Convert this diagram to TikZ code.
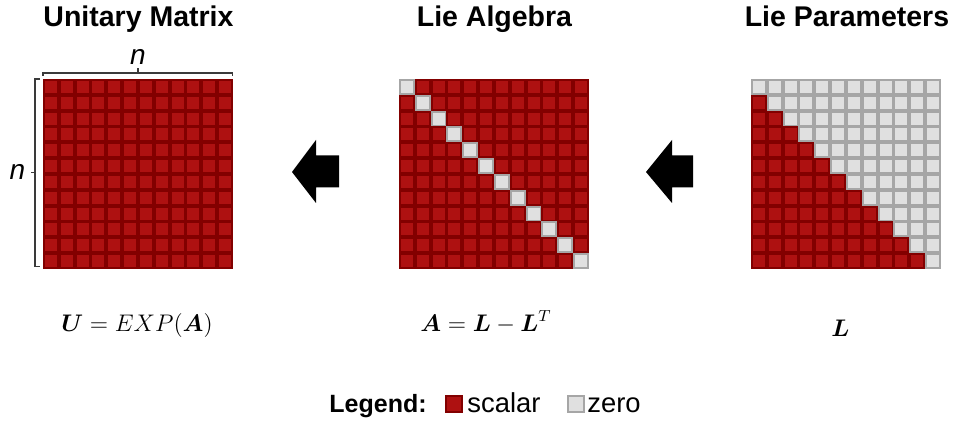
\documentclass[tikz,border=0pt]{standalone}
\usepackage{amsmath}
\usepackage[no-math]{fontspec}
\newfontfamily\arial{Liberation Sans}
\definecolor{redout}{HTML}{820000}
\definecolor{redin}{HTML}{AE1111}
\definecolor{grayout}{HTML}{A6A6A6}
\definecolor{grayin}{HTML}{E0E0E0}
\definecolor{brk}{HTML}{3A3A3A}
\newcommand\mcell[3]{%
  \fill[#3out] (#1,#2) rectangle ++(15.83,15.83);
  \fill[#3in] ($(#1,#2)+(1.9,1.9)$) rectangle ++(12.03,12.03);
}
\usetikzlibrary{calc}
\tikzset{
  title/.style={font=\arial\bfseries\fontsize{14.25}{16}\selectfont, inner sep=0, anchor=base},
  dimlabel/.style={font=\arial\itshape\fontsize{14}{16}\selectfont, inner sep=0, anchor=base},
  formula/.style={font=\fontsize{12}{14}\selectfont, inner sep=0, anchor=base},
  legendhead/.style={font=\arial\bfseries\fontsize{12.5}{14}\selectfont, inner sep=0, anchor=base west},
  legendtxt/.style={font=\arial\fontsize{13.7}{15}\selectfont, inner sep=0, anchor=base west},
  bracket/.style={draw=brk, line width=0.6pt},
  bigarrow/.style={fill=black},
  swatch/.style={inner sep=0, minimum size=8pt, line width=0.9pt, anchor=south west}
}
\begin{document}
\begin{tikzpicture}[x=0.5pt,y=-0.5pt]
\useasboundingbox (0,0) rectangle (955,427);
% titles
\node[title] (t1) at (138.5,27) {Unitary Matrix};
\node[title] (t2) at (494.5,27) {Lie Algebra};
\node[title] (t3) at (847,27) {Lie Parameters};
% matrix 1: all scalar
\foreach \r in {0,...,11}{
  \foreach \c in {0,...,11}{
    \mcell{43+15.83*\c}{79+15.83*\r}{red}
  }
}
% matrix 2: zero diagonal
\foreach \r in {0,...,11}{
  \foreach \c in {0,...,11}{
    \ifnum\r=\c
      \mcell{399+15.83*\c}{79+15.83*\r}{gray}
    \else
      \mcell{399+15.83*\c}{79+15.83*\r}{red}
    \fi
  }
}
% matrix 3: strictly lower triangular
\foreach \r in {0,...,11}{
  \foreach \c in {0,...,11}{
    \ifnum\c<\r
      \mcell{751+15.83*\c}{79+15.83*\r}{red}
    \else
      \mcell{751+15.83*\c}{79+15.83*\r}{gray}
    \fi
  }
}
% brackets
\coordinate (bt1) at (43,76);
\coordinate (bt2) at (232.5,76);
\coordinate (btm) at (138,73);
\coordinate (btt) at (138,68.5);
\draw[bracket] (bt1) |- (btm) -| (bt2);
\draw[bracket] (btm) -- (btt);
\coordinate (bl1) at (40,79);
\coordinate (bl2) at (40,266.5);
\coordinate (blm) at (35,172.5);
\coordinate (blt) at (30.5,172.5);
\draw[bracket] (bl1) -| (blm) |- (bl2);
\draw[bracket] (blm) -- (blt);
\node[dimlabel] (ntop) at (138,65) {n};
\node[dimlabel] (nleft) at (17.5,180) {n};
% arrows
\fill[bigarrow] (292,172) -- (316,140) -- (316,155.5) -- (339,155.5) -- (339,187.5) -- (316,187.5) -- (316,203) -- cycle;
\fill[bigarrow] (646,172) -- (672,140) -- (672,155.5) -- (693,155.5) -- (693,187.5) -- (672,187.5) -- (672,203) -- cycle;
% formulas
\node[formula] (f1) at (137,331.5) {$\boldsymbol{U} = EXP(\boldsymbol{A})$};
\node[formula] (f2) at (486,331.5) {$\boldsymbol{A} = \boldsymbol{L} - \boldsymbol{L}^{T}$};
\node[formula] (f3) at (840.5,337) {$\boldsymbol{L}$};
% legend
\node[legendhead] (lg) at (329,413) {Legend:};
\node[swatch, draw=redout, fill=redin] (sw1) at (445,413) {};
\node[legendtxt] (ls) at (467,413) {scalar};
\node[swatch, draw=grayout, fill=grayin] (sw2) at (567,413) {};
\node[legendtxt] (lz) at (587,413) {zero};
\end{tikzpicture}
\end{document}
